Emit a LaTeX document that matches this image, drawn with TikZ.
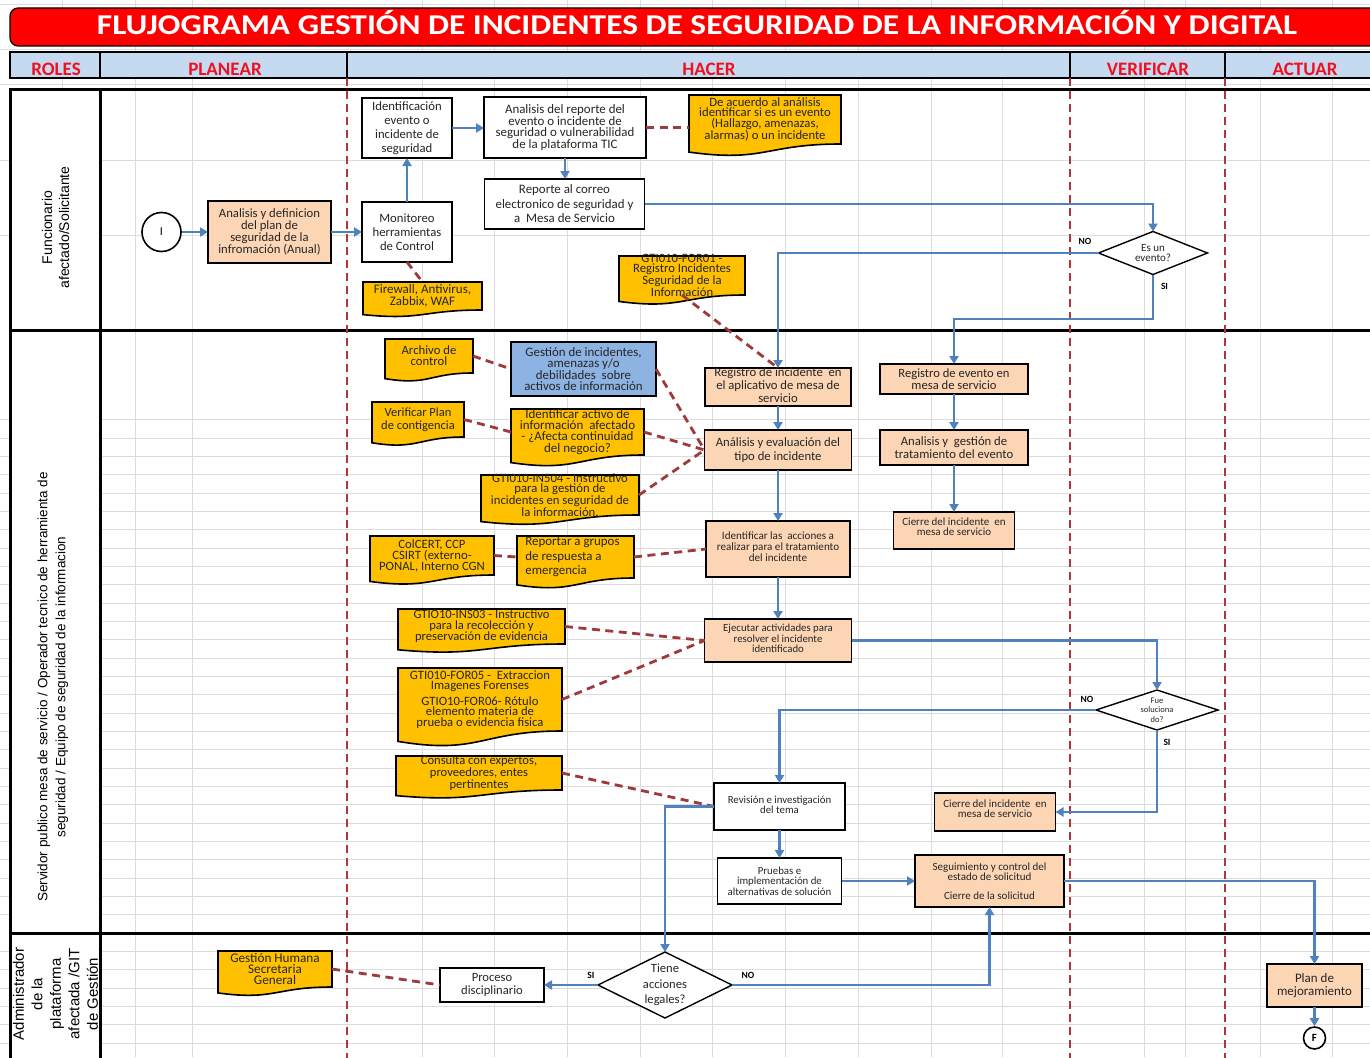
\documentclass[tikz,border=0pt]{standalone}
\usepackage{fontspec}
\usepackage{graphicx}
\setmainfont{Carlito}
\newfontfamily\arialf{Liberation Sans}
\usetikzlibrary{arrows.meta,calc,shapes.geometric}
\definecolor{peach}{HTML}{FCD5B4}
\definecolor{docyellow}{HTML}{FFC000}
\definecolor{gblue}{HTML}{8DB3E2}
\definecolor{arrowblue}{HTML}{4F81BD}
\definecolor{dashred}{HTML}{9E3A3A}
\definecolor{phasered}{HTML}{B0363A}
\definecolor{headblue}{HTML}{C5D9F1}
\definecolor{headred}{HTML}{F01020}
\definecolor{titlered}{HTML}{FF0000}
\definecolor{gridgray}{HTML}{DCDCDC}
\definecolor{txt}{HTML}{262626}
\newcommand\fs[2]{\fontsize{#1}{#2}\selectfont}
\newcommand\docpath[1]{%
  \draw[docstyle] let \p1=(#1.north west), \p2=(#1.south east), \n1={\y1-\y2} in
    (\x1,\y1) -- (\x2,\y1) -- (\x2,\y2)
    .. controls ({0.5*\x1+0.5*\x2},\y2) and ({0.5*\x1+0.5*\x2},{\y2-0.38*\n1}) ..
    (\x1,{\y2-0.165*\n1}) -- cycle;}
% [text style]{style}{name}{x}{y}{w}{h}{font}{text}
\newcommand\mkbox[9][]{%
  \node[#2, minimum width=#6pt, minimum height=#7pt, inner sep=0pt, outer sep=0pt] (#3) at (#4,#5) {};
  \node[boxtext, font={#8}, #1] (#3-t) at (#3.center) {#9};}
% [text style]{name}{x}{y}{w}{h}{font}{text}
\newcommand\mkdoc[8][]{%
  \node[minimum width=#5pt, minimum height=#6pt, inner sep=0pt, outer sep=0pt] (#2) at (#3,#4) {};
  \docpath{#2}
  \node[boxtext, font={#7}, #1] (#2-t) at (#2.center) {#8};}
\tikzset{
  wbox/.style={draw=black, line width=1.6pt, fill=white},
  pbox/.style={draw=black, line width=1.6pt, fill=peach},
  bbox/.style={draw=black, line width=1.6pt, fill=gblue},
  dbox/.style={diamond, draw=black, line width=1.4pt, fill=white},
  boxtext/.style={align=center, text=txt, inner sep=0pt},
  docstyle/.style={draw=black, line width=1.6pt, fill=docyellow},
  flow/.style={draw=arrowblue, line width=2.6pt, -{Triangle[length=8pt,width=9pt]}},
  note/.style={draw=dashred, line width=2.8pt, dash pattern=on 8pt off 5.5pt},
  phase/.style={draw=phasered, line width=2.6pt, dash pattern=on 8pt off 5pt},
  gridline/.style={draw=gridgray, line width=0.9pt},
  laneline/.style={draw=black, line width=3pt},
  lbl/.style={font=\fs{9.5}{10}\bfseries, text=black, inner sep=0pt},
  lanelbl/.style={rotate=90, align=center, text=black, inner sep=0pt},
  headlbl/.style={anchor=base, text=headred, font=\fs{19}{21}\bfseries, inner sep=0pt},
}
\begin{document}
\begin{tikzpicture}[x=1pt,y=-1pt]
\useasboundingbox (0,0) rectangle (1370,1057);
\fill[white] (0,0) rectangle (1370,1057);
% ---------- grid ----------
\foreach \gx in {62,135,192,422,494,567,640,712,785,858,931,1002,1144,1185,1260,1332}
  \draw[gridline] (\gx,0) -- (\gx,1057);
\foreach \k in {1,...,28}
  \draw[gridline] (0,{933-18.33*\k}) -- (1370,{933-18.33*\k});
\foreach \gy in {4,49,84,160,235,951.3,969.7,988,1006.3,1024.7,1043}
  \draw[gridline] (0,\gy) -- (1370,\gy);
\fill[white] (10,89) rectangle (100,1060);
% ---------- title ----------
\draw[fill=titlered, draw=black, line width=1.2pt, rounded corners=8pt] (10,8) rectangle (1390,46);
\node[anchor=base, text=white, inner sep=0pt] (title) at (697,35)
  {\scalebox{1}[0.86]{\resizebox{1200pt}{!}{\fs{28}{30}\bfseries FLUJOGRAMA GESTIÓN DE INCIDENTES DE SEGURIDAD DE LA INFORMACIÓN Y DIGITAL}}};
% ---------- header ----------
\draw[fill=headblue, draw=black, line width=2.5pt] (10,52) rectangle (1390,78);
\foreach \hx in {100,347,1070,1225} \draw[line width=2.5pt] (\hx,52) -- (\hx,78);
\node[headlbl] (hroles) at (56,75) {ROLES};
\node[headlbl] (hplan) at (225,75) {PLANEAR};
\node[headlbl] (hhacer) at (709,75) {HACER};
\node[headlbl] (hverif) at (1148,75) {VERIFICAR};
\node[headlbl] (hact) at (1305,75) {ACTUAR};
% ---------- lanes ----------
\draw[laneline] (10,89) -- (1390,89);
\draw[laneline] (10,330) -- (1390,330);
\draw[laneline] (10,933) -- (1390,933);
\draw[laneline] (10,87.5) -- (10,1060);
\draw[laneline] (100,87.5) -- (100,1060);
\foreach \px in {347,1070,1225} \draw[phase] (\px,78) -- (\px,1060);
\node[lanelbl, font=\arialf\fs{14}{17}] (lane1) at (55.5,227.5) {Funcionario\\afectado/Solicitante};
\node[lanelbl, font=\arialf\fs{13.5}{18}] (lane2) at (53,687) {Servidor publico mesa de servicio / Operador tecnico de herramienta de\\seguridad / Equipo de seguridad de la informacion};
\node[lanelbl, font=\arialf\fs{15}{18.5}] (lane3) at (55.5,994) {Administrador\\de la\\plataforma\\afectada /GIT\\de Gestión};
% ---------- lane 1 ----------
\node[circle, draw=black, line width=1.6pt, fill=white, minimum size=39pt, inner sep=0pt, font=\fs{12}{12}] (start) at (161.5,232) {I};
\mkbox{pbox}{plan}{269.5}{232}{123}{62}{\fs{12.7}{12.2}}{Analisis y definicion\\del plan de\\seguridad de la\\infromación (Anual)}
\mkbox{wbox}{monit}{407}{232}{90}{60}{\fs{12.7}{14.3}}{Monitoreo\\herramientas\\de Control}
\mkbox{wbox}{ident}{407}{128}{90}{60}{\fs{12.7}{14}}{Identificación\\evento o\\incidente de\\seguridad}
\mkbox{wbox}{analrep}{565}{127.5}{162}{61}{\fs{12.9}{11}}{Analisis del reporte del\\evento o incidente de\\seguridad o vulnerabilidad\\de la plataforma TIC}
\mkbox{wbox}{reporte}{564.5}{204}{160}{50}{\fs{12.9}{14.5}}{Reporte al correo\\electronico de seguridad y\\a\ \ Mesa de Servicio}
\mkdoc{deacuerdo}{765}{119.5}{152}{49}{\fs{12.7}{10.5}}{De acuerdo al análisis\\identificar si es un evento\\(Hallazgo, amenazas,\\alarmas) o un incidente}
\mkdoc{firewall}{422.5}{296}{119}{28}{\fs{13}{10.5}}{Firewall, Antivirus,\\Zabbix, WAF}
\mkdoc{for01}{682}{275.5}{126}{39}{\fs{12.7}{10.5}}{GTI010-FOR01 -\\Registro Incidentes\\Seguridad de la\\Información}
\mkbox{dbox}{esevento}{1153}{253}{109}{43}{\fs{11}{10}}{Es un\\evento?}
% ---------- lane 2 ----------
\mkdoc{archivo}{429}{356}{88}{34}{\fs{12.7}{11}}{Archivo de\\control}
\mkbox{bbox}{gestion}{583.5}{369}{145}{54}{\fs{12.9}{10.6}}{Gestión de incidentes,\\amenazas y/o\\debilidades\ \ sobre\\activos de información}
\mkdoc{verif}{418}{419.5}{92}{35}{\fs{12.5}{12.7}}{Verificar Plan\\de contigencia}
\mkdoc{identact}{577.5}{432}{133}{46}{\fs{13}{10.8}}{Identificar activo de\\información\ \ afectado\\- ¿Afecta continuidad\\del negocio?}
\mkdoc{in504}{560}{495}{158}{40}{\fs{12.7}{10.2}}{GTI010-IN504 - Instructivo\\para la gestión de\\incidentes en seguridad de\\la información.}
\mkdoc{colcert}{432}{555.5}{124}{39}{\fs{12.7}{10.2}}{ColCERT, CCP\\CSIRT (externo-\\PONAL, Interno CGN}
\mkdoc[align=left, xshift=-3pt]{reportar}{575.5}{557}{117}{42}{\fs{12.9}{14.2}}{Reportar a grupos\\de respuesta a\\emergencia}
\mkdoc{ins03}{481.5}{626.5}{167}{35}{\fs{12.6}{10.2}}{GTIO10-INS03 - Instructivo\\para la recolección y\\preservación de evidencia}
\mkdoc{for05}{480}{699.5}{164}{63}{\fs{12.7}{10.2}}{GTI010-FOR05 -\ \ Extraccion\\Imagenes Forenses\\[4pt]GTIO10-FOR06- Rótulo\\elemento materia de\\prueba o evidencia fisica}
\mkdoc{consulta}{479}{773}{166}{34}{\fs{12.6}{10.2}}{Consulta con expertos,\\proveedores, entes\\pertinentes}
\mkbox[yshift=2pt]{pbox}{reginc}{778}{387}{146}{38}{\fs{12.7}{12.8}}{Registro de incidente\ \ en\\el aplicativo de mesa de\\servicio}
\mkbox{pbox}{analeval}{778}{450}{147}{40}{\fs{12.7}{13.3}}{Análisis y evaluación del\\tipo de incidente}
\mkbox[yshift=2pt]{pbox}{identacc}{778}{549}{144}{56}{\fs{11.1}{11}}{Identificar las\ \ acciones a\\realizar para el tratamiento\\del incidente}
\mkbox[yshift=2pt]{pbox}{ejec}{778}{640.5}{147}{43}{\fs{10.8}{10.5}}{Ejecutar actividades para\\resolver el incidente\\identificado}
\mkbox{pbox}{regev}{954}{379}{148}{30}{\fs{12.6}{12.3}}{Registro de evento en\\mesa de servicio}
\mkbox{pbox}{analgest}{954}{447.5}{148}{35}{\fs{12.7}{12.7}}{Analisis y\ \ gestión de\\tratamiento del evento}
\mkbox[yshift=4pt]{pbox}{cierre1}{954}{530.5}{121}{37}{\fs{11}{10}}{Cierre del incidente\ \ en\\mesa de servicio}
\mkbox{dbox}{fue}{1157}{710}{122}{40}{\fs{8.5}{9.7}}{Fue\\soluciona\\do?}
\mkbox[yshift=2pt]{wbox}{revision}{779.5}{806.5}{131}{47}{\fs{10.8}{9.9}}{Revisión e investigación\\del tema}
\mkbox[yshift=3pt]{pbox}{cierre2}{995}{812}{121}{38}{\fs{11}{9.9}}{Cierre del incidente\ \ en\\mesa de servicio}
\mkbox{wbox}{pruebas}{779.5}{881}{124}{46}{\fs{10.8}{10.5}}{Pruebas e\\implementación de\\alternativas de solución}
\mkbox{pbox}{seguim}{989.5}{881}{149}{52}{\fs{11}{9.9}}{Seguimiento y control del\\estado de solicitud\\[9pt]Cierre de la solicitud}
% ---------- lane 3 ----------
\mkdoc{gesthum}{275}{969}{114}{36}{\fs{13.2}{10.8}}{Gestión Humana\\Secretaria\\General}
\mkbox{wbox}{proceso}{492}{985}{104}{34}{\fs{12.6}{13}}{Proceso\\disciplinario}
\mkbox{dbox}{tiene}{665}{985}{134}{66}{\fs{12.6}{15.5}}{Tiene\\acciones\\legales?}
\mkbox{pbox}{planm}{1314.5}{985.5}{95}{43}{\fs{13}{13.3}}{Plan de\\mejoramiento}
\node[circle, draw=black, line width=1.6pt, fill=white, minimum size=22pt, inner sep=0pt, font=\fs{11}{11}\bfseries] (fin) at (1314.5,1038) {F};
% ---------- dashed associations ----------
\draw[note] (analrep.east) -- (analrep.east -| deacuerdo.west);
\draw[note] (monit.south) -- (firewall.north);
\draw[note] (for01.south) -- (reginc.north);
\draw[note] (archivo.east) -- (gestion.west);
\draw[note] (gestion.east) -- (analeval.west);
\draw[note] (verif.east) -- (identact.west);
\draw[note] (identact.east) -- (analeval.west);
\draw[note] (in504.east) -- (analeval.west);
\draw[note] (colcert.east) -- (reportar.west);
\draw[note] (reportar.east) -- (identacc.west);
\draw[note] (ins03.east) -- (ejec.west);
\draw[note] (for05.east) -- (ejec.west);
\draw[note] (consulta.east) -- (revision.west);
\draw[note] (gesthum.east) -- (proceso.west);
% ---------- flow ----------
\draw[flow] (start) -- (plan);
\draw[flow] (plan) -- (monit);
\draw[flow] (monit) -- (ident);
\draw[flow] (ident.east) -- (ident.east -| analrep.west);
\draw[flow] (analrep.south) -- (analrep.south |- reporte.north);
\draw[flow] (reporte.east) -| (esevento.north);
\draw[flow] (esevento.west) -| (reginc.north);
\coordinate (sibend) at (1153,319);
\draw[flow] (esevento.south) -- (sibend) -| (regev.north);
\draw[flow] (reginc) -- (analeval);
\draw[flow] (analeval) -- (identacc);
\draw[flow] (identacc) -- (ejec);
\draw[flow] (regev) -- (analgest);
\draw[flow] (analgest) -- (cierre1);
\draw[flow] (ejec.east) -| (fue.north);
\draw[flow] (fue.west) -| (revision.north);
\draw[flow] (fue.south) |- (cierre2.east);
\draw[flow] (revision) -- (pruebas);
\draw[flow] (pruebas.east) -- (pruebas.east -| seguim.west);
\draw[flow] (revision.west) -| (tiene.north);
\draw[flow] (seguim.east) -| (planm.north);
\draw[flow] (tiene.east) -| (seguim.south);
\draw[flow] (tiene.west) -- (proceso.east);
\draw[flow] (planm) -- (fin);
% ---------- branch labels ----------
\node[lbl] (no1) at (1085,241) {NO};
\node[lbl] (si1) at (1164.5,286) {SI};
\node[lbl] (no2) at (1087,699) {NO};
\node[lbl] (si2) at (1167,742) {SI};
\node[lbl] (si3) at (591,975) {SI};
\node[lbl] (no3) at (748,975) {NO};
\end{tikzpicture}
\end{document}
